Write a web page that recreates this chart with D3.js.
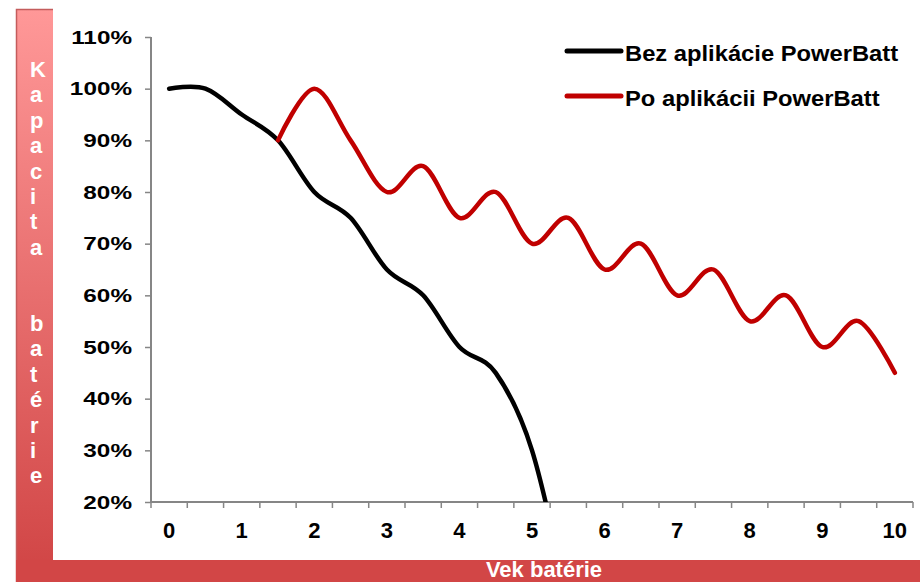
<!DOCTYPE html>
<html>
<head>
<meta charset="utf-8">
<script src="https://cdn.jsdelivr.net/npm/d3@7"></script>
<style>
body { margin: 0; background: #fff; }
text { font-family: "Liberation Sans", Arial, sans-serif; font-weight: bold; }
</style>
</head>
<body>
<div id="chart"></div>
<script>
// categories on the x axis (half years), only whole years get a label
var ages = ["0", "0.5", "1", "1.5", "2", "2.5", "3", "3.5", "4", "4.5", "5",
            "5.5", "6", "6.5", "7", "7.5", "8", "8.5", "9", "9.5", "10"];
var xLabels = ["0", "1", "2", "3", "4", "5", "6", "7", "8", "9", "10"];
var yTicks = [20, 30, 40, 50, 60, 70, 80, 90, 100, 110];

// Bez aplikacie - starts at age 0
var bezValues = [100, 100, 95, 90, 80, 75, 65, 60, 50, 45, 30, 0];
// Po aplikacii - starts at age 1.5
var poStart = "1.5";
var poValues = [90, 100, 90, 80, 85, 75, 80, 70, 75, 65, 70, 60, 65, 55, 60, 50, 55, 45];

var seriesNames = ["Bez aplikácie PowerBatt", "Po aplikácii PowerBatt"];
var seriesColors = ["#000000", "#c00000"];
var yTitle = "Kapacita  batérie";
var xTitle = "Vek batérie";

var svgWidth = 920;
var svgHeight = 582;
var plot = {left: 151, right: 913, top: 37, bottom: 502};

var svg = d3.select("#chart")
    .append("svg")
    .attr("width", svgWidth)
    .attr("height", svgHeight);

// red frame (left bar with gradient + bottom bar)
var grad = svg.append("defs").append("linearGradient")
    .attr("id", "barGrad")
    .attr("x1", 0).attr("y1", 0).attr("x2", 0).attr("y2", 1);
grad.append("stop").attr("offset", "0%").attr("stop-color", "#ff9898");
grad.append("stop").attr("offset", "100%").attr("stop-color", "#d04444");

svg.append("clipPath").attr("id", "plotClip")
    .append("rect")
    .attr("x", plot.left)
    .attr("y", plot.top - 20)
    .attr("width", plot.right - plot.left)
    .attr("height", plot.bottom - plot.top + 20);

svg.append("rect")
    .attr("x", 16).attr("y", 9)
    .attr("width", 37).attr("height", svgHeight - 9)
    .attr("fill", "url(#barGrad)");
svg.append("path")
    .attr("d", "M16.5," + svgHeight + "V9.5H53")
    .attr("fill", "none")
    .attr("stroke", "#c45c5c")
    .attr("stroke-width", 1.5);
svg.append("rect")
    .attr("x", 16).attr("y", 560)
    .attr("width", svgWidth - 16).attr("height", svgHeight - 560)
    .attr("fill", "#d24646");

// scales
var x = d3.scaleBand().domain(ages).range([plot.left, plot.right]);
var y = d3.scaleLinear().domain([20, 110]).range([plot.bottom, plot.top]);

// y axis
var yAxis = svg.append("g")
    .attr("transform", "translate(" + plot.left + ",0)")
    .call(d3.axisLeft(y).tickValues(yTicks).tickSize(6).tickFormat(""));
yAxis.select(".domain").attr("stroke", "#868686").attr("stroke-width", 2)
    .attr("d", "M0," + plot.top + "V" + plot.bottom);
yAxis.selectAll(".tick line").attr("stroke", "#868686").attr("stroke-width", 1.5);

svg.append("g").selectAll("text")
    .data(yTicks)
    .enter()
    .append("text")
    .attr("text-anchor", "end")
    .attr("transform", d => "translate(132," + (y(d) + 6.5) + ") scale(1.35,1)")
    .style("font-size", "18px")
    .attr("fill", "#000")
    .text(d => d + "%");

// x axis: ticks on band boundaries
var xAxis = svg.append("g")
    .attr("transform", "translate(0," + plot.bottom + ")");
xAxis.append("line")
    .attr("x1", plot.left).attr("x2", plot.right)
    .attr("stroke", "#868686").attr("stroke-width", 2);
xAxis.selectAll(".xt")
    .data(ages.concat(["end"]))
    .enter()
    .append("line")
    .attr("class", "xt")
    .attr("x1", d => d === "end" ? plot.right : x(d))
    .attr("x2", d => d === "end" ? plot.right : x(d))
    .attr("y1", 0).attr("y2", 6)
    .attr("stroke", "#868686").attr("stroke-width", 1.5);

svg.append("g").selectAll("text")
    .data(xLabels)
    .enter()
    .append("text")
    .attr("x", d => x(d) + x.bandwidth() / 2)
    .attr("y", 538)
    .attr("text-anchor", "middle")
    .style("font-size", "22px")
    .attr("fill", "#000")
    .text(d => d);

// lines
var line = d3.line()
    .x(d => x(d.age) + x.bandwidth() / 2)
    .y(d => y(d.value))
    .curve(d3.curveCardinal.tension(0));

var bezData = bezValues.map((v, i) => ({age: ages[i], value: v}));
var p0 = ages.indexOf(poStart);
var poData = poValues.map((v, i) => ({age: ages[p0 + i], value: v}));

var lines = svg.append("g").attr("clip-path", "url(#plotClip)");
[bezData, poData].forEach(function(data, i) {
    lines.append("path")
        .datum(data)
        .attr("d", line)
        .attr("fill", "none")
        .attr("stroke", seriesColors[i])
        .attr("stroke-width", 4.5)
        .attr("stroke-linecap", "round")
        .attr("stroke-linejoin", "round");
});

// legend
var legend = svg.append("g");
seriesNames.forEach(function(name, i) {
    var ly = 51 + i * 45;
    legend.append("line")
        .attr("x1", 567).attr("x2", 621)
        .attr("y1", ly).attr("y2", ly)
        .attr("stroke", seriesColors[i])
        .attr("stroke-width", 5)
        .attr("stroke-linecap", "round");
    legend.append("text")
        .attr("transform", "translate(625," + (ly + 10) + ") scale(1.08,1)")
        .style("font-size", "22px")
        .attr("fill", "#000")
        .text(name);
});

// axis titles
svg.append("g").selectAll("text")
    .data(yTitle.split(""))
    .enter()
    .append("text")
    .attr("x", 30)
    .attr("y", (d, i) => 77 + i * 25.4)
    .style("font-size", "22px")
    .attr("fill", "#fff")
    .text(d => d);

svg.append("text")
    .attr("x", 544)
    .attr("y", 577)
    .attr("text-anchor", "middle")
    .style("font-size", "22px")
    .attr("fill", "#fff")
    .text(xTitle);
</script>
</body>
</html>
